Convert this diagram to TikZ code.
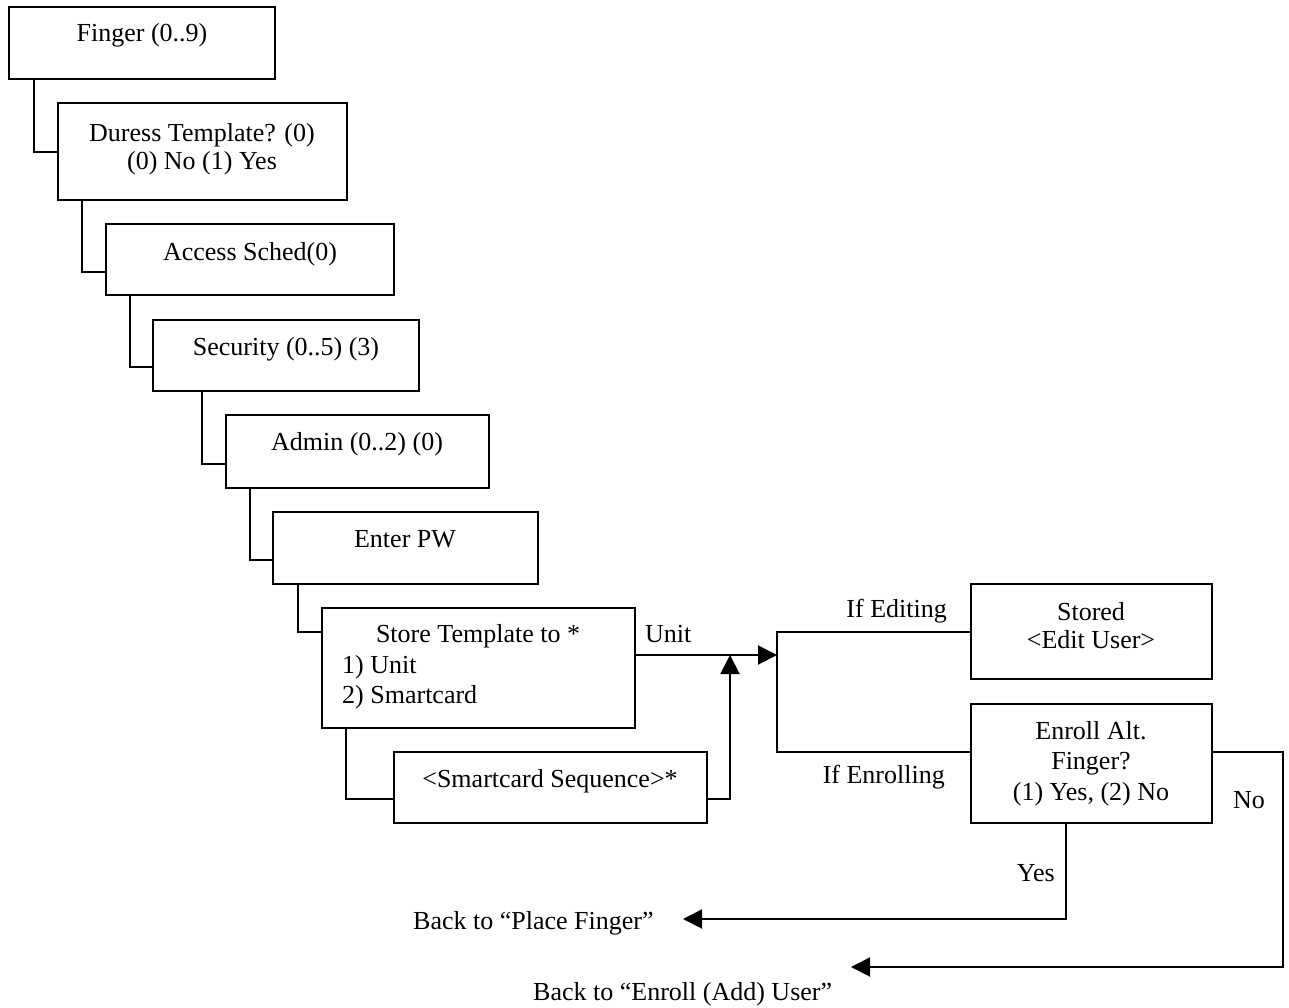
\documentclass[tikz,border=0pt]{standalone}
\usepackage{fontspec}
\setmainfont{Liberation Serif}
\usetikzlibrary{arrows.meta,calc}
\begin{document}
\begin{tikzpicture}[x=1pt,y=-1pt,
  box/.style={draw, line width=2pt, inner sep=0pt, outer sep=0pt, anchor=north west},
  txt/.style={inner sep=0pt, font=\fontsize{26}{30}\selectfont},
  wire/.style={line width=2pt},
  arr/.style={wire, -{Triangle[length=19pt,width=19pt]}}]
\path[use as bounding box, fill=white] (0,0) rectangle (1289,1008);

% menu boxes
\node[box, minimum width=266pt, minimum height=72pt]  (b1)  at (9,7)     {};
\node[box, minimum width=289pt, minimum height=97pt]  (b2)  at (58,103)  {};
\node[box, minimum width=288pt, minimum height=71pt]  (b3)  at (106,224) {};
\node[box, minimum width=266pt, minimum height=71pt]  (b4)  at (153,320) {};
\node[box, minimum width=263pt, minimum height=73pt]  (b5)  at (226,415) {};
\node[box, minimum width=265pt, minimum height=72pt]  (b6)  at (273,512) {};
\node[box, minimum width=313pt, minimum height=120pt] (b7)  at (322,608) {};
\node[box, minimum width=313pt, minimum height=71pt]  (b8)  at (394,752) {};
\node[box, minimum width=241pt, minimum height=95pt]  (b9)  at (971,584) {};
\node[box, minimum width=241pt, minimum height=119pt] (b10) at (971,704) {};

% box texts
\node[txt, anchor=base] (t1)  at (142,42)  {Finger (0..9)};
\node[txt, anchor=base] (t2a) at (202,142) {Duress Template? (0)};
\node[txt, anchor=base] (t2b) at (202,170) {(0) No (1) Yes};
\node[txt, anchor=base] (t3)  at (250,260) {Access Sched(0)};
\node[txt, anchor=base] (t4)  at (286,355) {Security (0..5) (3)};
\node[txt, anchor=base] (t5)  at (357,450) {Admin (0..2) (0)};
\node[txt, anchor=base] (t6)  at (405,547) {Enter PW};
\node[txt, anchor=base] (t7a) at (478,642) {Store Template to *};
\node[txt, anchor=base west] (t7b) at (342,673) {1) Unit};
\node[txt, anchor=base west] (t7c) at (342,703) {2) Smartcard};
\node[txt, anchor=base] (t8)  at (550,787) {<Smartcard Sequence>*};
\node[txt, anchor=base] (t9a) at (1091,620) {Stored};
\node[txt, anchor=base] (t9b) at (1091,648) {<Edit User>};
\node[txt, anchor=base] (t10a) at (1091,739) {Enroll Alt.};
\node[txt, anchor=base] (t10b) at (1091,769) {Finger?};
\node[txt, anchor=base] (t10c) at (1091,800) {(1) Yes, (2) No};

% free labels
\node[txt, anchor=base west] (lunit) at (645,642)  {Unit};
\node[txt, anchor=base east] (ledit) at (947,617)  {If Editing};
\node[txt, anchor=base east] (lenr)  at (945,783)  {If Enrolling};
\node[txt, anchor=base west] (lno)   at (1233,808) {No};
\node[txt, anchor=base east] (lyes)  at (1055,881) {Yes};
\node[txt, anchor=base west] (backplace)  at (413,929)  {Back to “Place Finger”};
\node[txt, anchor=base west] (backenroll) at (533,1000) {Back to “Enroll (Add) User”};

% staircase links
\draw[wire] ([xshift=25pt]b1.south west) |- ([yshift=-49pt]b2.north west);
\draw[wire] ([xshift=24pt]b2.south west) |- ([yshift=-48pt]b3.north west);
\draw[wire] ([xshift=24pt]b3.south west) |- ([yshift=-47pt]b4.north west);
\draw[wire] ([xshift=49pt]b4.south west) |- ([yshift=-49pt]b5.north west);
\draw[wire] ([xshift=24pt]b5.south west) |- ([yshift=-48pt]b6.north west);
\draw[wire] ([xshift=25pt]b6.south west) |- ([yshift=-24pt]b7.north west);
\draw[wire] ([xshift=24pt]b7.south west) |- ([yshift=-47pt]b8.north west);

% storage routing
\coordinate (split) at (777,655);
\coordinate (merge) at (730,655);
\draw[arr] ([yshift=-47pt]b7.north east) -- (split);
\draw[arr] ([yshift=-47pt]b8.north east) -| (merge);
\draw[wire] ([yshift=-48pt]b9.north west) -| (split) |- ([yshift=-48pt]b10.north west);

% returns
\coordinate (yback) at (683,919);
\coordinate (ncorner) at (1283,967);
\coordinate (nback) at (851,967);
\draw[arr] ([xshift=95pt]b10.south west) |- (yback);
\draw[arr] ([yshift=-48pt]b10.north east) -| (ncorner) -- (nback);
\end{tikzpicture}
\end{document}
